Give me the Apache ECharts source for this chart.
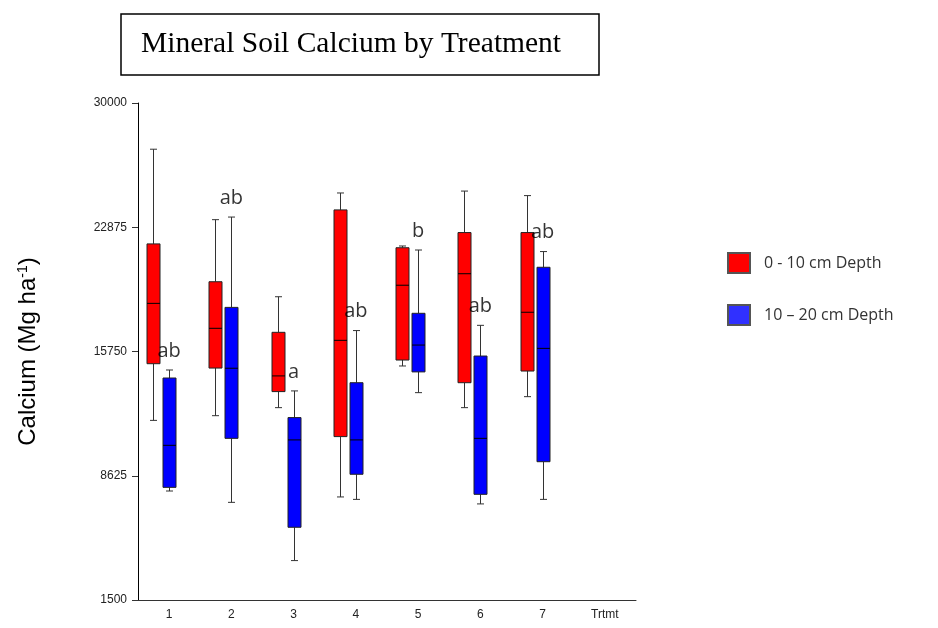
<!DOCTYPE html>
<html>
<head>
<meta charset="utf-8">
<script src="https://cdn.jsdelivr.net/npm/echarts@6/dist/echarts.min.js"></script>
<style>html,body{margin:0;padding:0;background:#fff}#c{width:938px;height:628px}</style>
</head>
<body>
<div id="c"></div>
<script>
// Treatments along the x axis (last slot is the axis title "Trtmt")
const categories = ['1', '2', '3', '4', '5', '6', '7', 'Trtmt'];
const yTicks = [1500, 8625, 15750, 22875, 30000];
// [min, Q1, median, Q3, max] per treatment, Mg/ha
const depth0to10 = [
  [11800, 15050, 18510, 21920, 27350],
  [12070, 14800, 17080, 19750, 23310],
  [12530, 13450, 14350, 16850, 18890],
  [7410, 10870, 16390, 23870, 24840],
  [14920, 15260, 19550, 21700, 21800],
  [12530, 13960, 20210, 22570, 24950],
  [13160, 14630, 18000, 22570, 24690]
];
const depth10to20 = [
  [7750, 7960, 10370, 14230, 14690],
  [7100, 10770, 14790, 18280, 23460],
  [3760, 5670, 10680, 11960, 13490],
  [7270, 8710, 10680, 13960, 16950],
  [13390, 14580, 16120, 17940, 21570],
  [7010, 7560, 10770, 15490, 17250],
  [7270, 9430, 15930, 20580, 21480]
];
const letters = ['ab', 'ab', 'a', 'ab', 'b', 'ab', 'ab'];
const seriesNames = ['0 - 10 cm Depth', '10 \u2013 20 cm Depth'];

function boxRenderer(offsetPx, fill) {
  return function (params, api) {
    const i = api.value(0);
    const lo = api.coord([i, api.value(1)]);
    const q1 = api.coord([i, api.value(2)]);
    const med = api.coord([i, api.value(3)]);
    const q3 = api.coord([i, api.value(4)]);
    const hi = api.coord([i, api.value(5)]);
    const cx = Math.round(lo[0] + offsetPx) + 0.5;
    const hw = 6.5, cw = 3.5;
    const ws = { stroke: '#333', lineWidth: 1 };
    return {
      type: 'group',
      children: [
        { type: 'line', shape: { x1: cx, y1: hi[1], x2: cx, y2: q3[1] }, style: ws },
        { type: 'line', shape: { x1: cx, y1: q1[1], x2: cx, y2: lo[1] }, style: ws },
        { type: 'line', shape: { x1: cx - cw, y1: hi[1], x2: cx + cw, y2: hi[1] }, style: ws },
        { type: 'line', shape: { x1: cx - cw, y1: lo[1], x2: cx + cw, y2: lo[1] }, style: ws },
        { type: 'rect', shape: { x: cx - hw, y: q3[1], width: 2 * hw, height: q1[1] - q3[1] },
          style: { fill: fill, stroke: '#222', lineWidth: 1 } },
        { type: 'line', shape: { x1: cx - hw, y1: med[1], x2: cx + hw, y2: med[1] },
          style: { stroke: '#000', lineWidth: 1 } }
      ]
    };
  };
}

const toRows = arr => arr.map((d, i) => [i].concat(d));

const chart = echarts.init(document.getElementById('c'));
chart.setOption({
  animation: false,
  backgroundColor: '#fff',
  title: {
    text: 'Mineral Soil Calcium by Treatment',
    left: 121, top: 14,
    padding: [15, 38, 16, 20],
    borderColor: '#000', borderWidth: 1.5,
    textStyle: { fontFamily: 'Liberation Serif', fontSize: 29.5, fontWeight: 'normal', color: '#000' }
  },
  legend: {
    orient: 'vertical',
    left: 722, top: 247,
    itemWidth: 22, itemHeight: 20, itemGap: 30,
    textStyle: { fontFamily: 'Open Sans', fontSize: 16, color: '#333', padding: [0, 0, 0, 9] },
    data: [
      { name: seriesNames[0], icon: 'rect', itemStyle: { color: '#ff0000', borderColor: '#555', borderWidth: 2 } },
      { name: seriesNames[1], icon: 'rect', itemStyle: { color: '#3030ff', borderColor: '#555', borderWidth: 2 } }
    ]
  },
  grid: { left: 138, right: 302, top: 103, bottom: 28, containLabel: false },
  xAxis: {
    type: 'category',
    data: categories,
    boundaryGap: true,
    axisLine: { lineStyle: { color: '#333', width: 1 } },
    axisTick: { alignWithLabel: true, length: 5, lineStyle: { color: '#333' } },
    axisLabel: { fontFamily: 'Liberation Sans', fontSize: 12, color: '#222', margin: 9, interval: 0 },
    splitLine: { show: false }
  },
  yAxis: {
    type: 'value',
    min: 1500, max: 30000,
    name: 'Calcium (Mg ha{sup|-1})',
    nameLocation: 'middle', nameRotate: 90, nameGap: 98,
    nameTextStyle: {
      fontFamily: 'Liberation Sans', fontSize: 24, color: '#000',
      rich: { sup: { fontFamily: 'Liberation Sans', fontSize: 14, verticalAlign: 'top', lineHeight: 15, padding: [0, 0, 10, 0] } }
    },
    axisLine: { show: true, lineStyle: { color: '#000', width: 1 } },
    axisTick: { show: true, length: 6, customValues: yTicks, lineStyle: { color: '#333' } },
    axisLabel: { fontFamily: 'Liberation Sans', fontSize: 12, color: '#222', margin: 11, customValues: yTicks,
      formatter: v => String(v) },
    splitLine: { show: false }
  },
  series: [
    {
      name: seriesNames[0], type: 'custom',
      itemStyle: { color: '#ff0000' },
      renderItem: boxRenderer(-16, '#ff0000'),
      encode: { x: 0, y: [1, 2, 3, 4, 5] },
      data: toRows(depth0to10)
    },
    {
      name: seriesNames[1], type: 'custom',
      itemStyle: { color: '#0000ff' },
      renderItem: boxRenderer(0, '#0000ff'),
      encode: { x: 0, y: [1, 2, 3, 4, 5] },
      data: toRows(depth10to20)
    },
    {
      name: 'letters', type: 'scatter',
      symbolSize: 0, silent: true,
      data: depth10to20.map((d, i) => ({ value: [i, d[4]], label: { formatter: letters[i] } })),
      label: { show: true, position: 'top', distance: 9, fontFamily: 'Open Sans', fontSize: 20, color: '#000' }
    }
  ]
});
</script>
</body>
</html>
